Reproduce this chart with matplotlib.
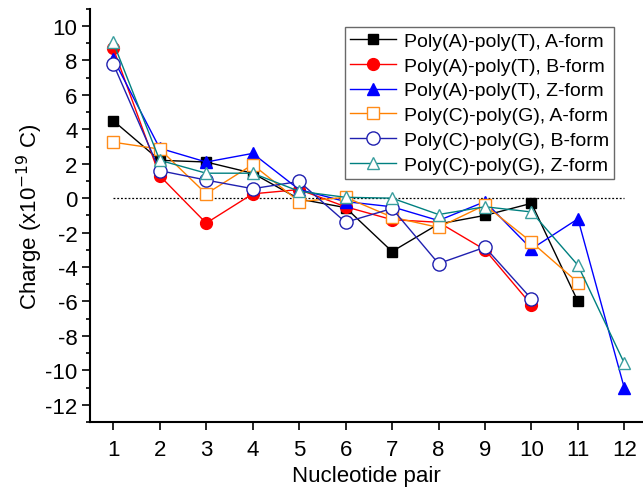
import numpy as np
import matplotlib.pyplot as plt
from matplotlib.ticker import MultipleLocator

plt.rcParams['font.family'] = ['Liberation Sans', 'DejaVu Sans']
plt.rcParams['axes.unicode_minus'] = False

# 数据
pairs = np.arange(1, 13)
at_a = [4.5, 2.2, 2.1, 1.45, -0.05, -0.55, -3.1, -1.5, -1.0, -0.3, -6.0]
at_b = [8.7, 1.3, -1.45, 0.25, 0.5, -0.5, -1.25, -1.4, -3.0, -6.2]
at_z = [8.1, 2.9, 2.1, 2.6, 0.5, -0.2, -0.5, -1.3, -0.2, -2.95, -1.2, -11.05]
cg_a = [3.25, 2.85, 0.25, 1.95, -0.2, 0.05, -1.1, -1.7, -0.4, -2.55, -4.9]
cg_b = [7.8, 1.6, 1.05, 0.55, 0.97, -1.4, -0.6, -3.8, -2.85, -5.85]
cg_z = [9.05, 2.2, 1.45, 1.45, 0.4, 0.05, 0.0, -0.95, -0.5, -0.8, -3.9, -9.6]

labels = ['Poly(A)-poly(T), A-form', 'Poly(A)-poly(T), B-form',
          'Poly(A)-poly(T), Z-form', 'Poly(C)-poly(G), A-form',
          'Poly(C)-poly(G), B-form', 'Poly(C)-poly(G), Z-form']

fig = plt.figure(figsize=(6.43, 4.89), dpi=100)
ax = fig.add_axes([0.14, 0.135, 0.86, 0.845])

ax.hlines(0, 1, 12, colors='black', linestyles=(0, (1.5, 1.5)), linewidth=0.9)

ms = 8.5
ax.plot(pairs[:len(at_a)], at_a, '-s', color='black', lw=1, ms=ms - 1,
        mfc='black', mec='black', label=labels[0])
ax.plot(pairs[:len(at_b)], at_b, '-o', color='red', lw=1, ms=ms,
        mfc='red', mec='red', label=labels[1])
ax.plot(pairs[:len(at_z)], at_z, '-^', color='blue', lw=1, ms=ms,
        mfc='blue', mec='blue', label=labels[2])
ax.plot(pairs[:len(cg_a)], cg_a, '-s', color='#ff8000', lw=1, ms=ms,
        mfc='white', mec='#ff8c1a', label=labels[3])
ax.plot(pairs[:len(cg_b)], cg_b, '-o', color='#2020b0', lw=1, ms=ms + 1,
        mfc='white', mec='#2020b0', label=labels[4])
ax.plot(pairs[:len(cg_z)], cg_z, '-^', color='#008080', lw=1, ms=ms,
        mfc='white', mec='#3a9e9e', label=labels[5])

ax.set_xlim(0.5, 12.4)
ax.set_ylim(-13, 11)
ax.set_xticks(pairs)
ax.yaxis.set_major_locator(MultipleLocator(2))
ax.yaxis.set_minor_locator(MultipleLocator(1))
ax.spines['top'].set_visible(False)
ax.spines['right'].set_visible(False)
ax.spines['left'].set_linewidth(1.5)
ax.spines['bottom'].set_linewidth(1.5)
ax.tick_params(axis='both', which='major', direction='out', length=6,
               width=1.2, labelsize=16, pad=3)
ax.tick_params(axis='x', which='major', pad=6)
ax.tick_params(axis='y', which='minor', direction='out', length=3, width=1.2)

ax.set_xlabel('Nucleotide pair', fontsize=16, labelpad=4)
ax.set_ylabel('Charge (x10$^{-19}$ C)', fontsize=16, labelpad=0.5)

leg = ax.legend(loc='upper right', bbox_to_anchor=(0.948, 0.955), fontsize=14,
                frameon=True, fancybox=False, handlelength=2.4,
                borderpad=0.25, labelspacing=0.37, handletextpad=0.4,
                borderaxespad=0)
leg.get_frame().set_edgecolor('#444444')
leg.get_frame().set_linewidth(1.0)

fig.savefig('out.png', dpi=100)
